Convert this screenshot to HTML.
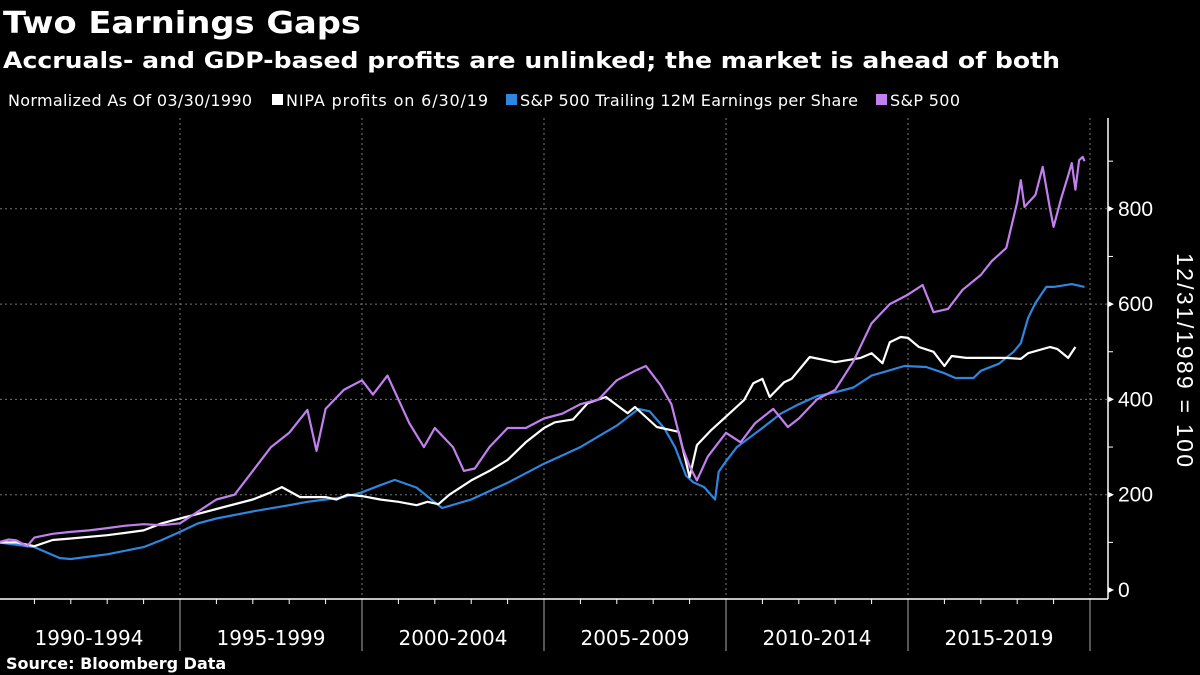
<!DOCTYPE html>
<html><head><meta charset="utf-8"><style>
html,body{margin:0;padding:0;background:#000;}
svg{display:block;font-family:"DejaVu Sans","Liberation Sans",sans-serif;}
</style></head><body>
<svg id="chart" width="1200" height="675" viewBox="0 0 1200 675">
<rect width="1200" height="675" fill="#000"/>
<text x="3" y="33" fill="#fff" font-size="30" font-weight="bold" font-family="DejaVu Sans, sans-serif" textLength="358" lengthAdjust="spacingAndGlyphs">Two Earnings Gaps</text>
<text x="3" y="68" fill="#fff" font-size="22" font-weight="bold" font-family="DejaVu Sans, sans-serif" textLength="1057" lengthAdjust="spacingAndGlyphs">Accruals- and GDP-based profits are unlinked; the market is ahead of both</text>
<g font-size="16" fill="#fff">
<text x="8" y="106" textLength="244">Normalized As Of 03/30/1990</text>
<g><rect x="272" y="94" width="11" height="11" fill="#fff"/><text x="286" y="106" textLength="202">NIPA profits on 6/30/19</text></g>
<g><rect x="506" y="94" width="11" height="11" fill="#2e86de"/><text x="520" y="106" textLength="338">S&amp;P 500 Trailing 12M Earnings per Share</text></g>
<g><rect x="876" y="94" width="11" height="11" fill="#c17fef"/><text x="890" y="106" textLength="70">S&amp;P 500</text></g>
</g>
<g id="grid"></g>
<g id="axes"></g>
<g id="series"></g>
<text transform="translate(1177,360) rotate(90)" text-anchor="middle" fill="#fff" font-size="23" font-family="Liberation Sans, sans-serif" textLength="214">12/31/1989 = 100</text>
<text x="6" y="669" fill="#fff" font-size="16" font-weight="bold">Source: Bloomberg Data</text>
</svg>
<script>
const yTicks=[0,200,400,600,800];
const periodLabels=["1990-1994","1995-1999","2000-2004","2005-2009","2010-2014","2015-2019"];
const periodStarts=[1990,1995,2000,2005,2010,2015];
const nipaDates=[1990,1990.5,1991,1991.5,1992,1993,1994,1994.5,1995,1995.5,1996,1997,1997.5,1997.8,1998.3,1999,1999.3,1999.6,2000,2000.5,2001,2001.5,2001.8,2002.1,2002.4,2003,2003.5,2004,2004.5,2005,2005.3,2005.8,2006.2,2006.7,2007.3,2007.5,2008.1,2008.7,2009,2009.2,2009.6,2010.2,2010.5,2010.75,2011,2011.2,2011.6,2011.8,2012.3,2013,2013.7,2014,2014.3,2014.5,2014.8,2015,2015.3,2015.7,2016,2016.2,2016.6,2017,2017.7,2018.1,2018.3,2018.9,2019.1,2019.4,2019.6];
const nipaValues=[100,100,92,105,108,115,125,140,150,160,170,190,205,216,195,195,190,200,197,190,185,178,185,180,200,230,250,273,310,340,352,358,392,405,371,384,342,332,237,304,336,378,399,434,443,405,436,443,489,478,487,497,476,520,531,529,510,500,470,491,487,487,487,485,497,510,506,487,510];
const epsDates=[1990,1991,1991.7,1992,1993,1994,1994.5,1995,1995.5,1996,1997,1998,1998.5,1999,1999.5,2000,2000.5,2000.9,2001.5,2001.9,2002.2,2003,2004,2005,2006,2007,2007.6,2007.9,2008.3,2008.6,2008.9,2009.1,2009.4,2009.7,2009.8,2010,2010.3,2011,2011.5,2012,2012.5,2013,2013.5,2014,2014.9,2015.5,2016,2016.3,2016.8,2017,2017.5,2017.9,2018.1,2018.3,2018.5,2018.8,2019,2019.5,2019.85];
const epsValues=[100,90,67,65,75,90,105,122,140,150,165,178,185,190,195,205,220,231,215,190,172,190,225,265,300,345,380,375,340,300,240,226,216,190,248,270,300,340,370,390,407,415,425,450,470,468,455,445,445,460,475,500,518,571,602,636,636,642,636];
const spxDates=[1990,1990.3,1990.5,1990.8,1991,1991.5,1992,1992.5,1993,1993.5,1994,1994.5,1995,1995.5,1996,1996.5,1997,1997.5,1998,1998.5,1998.75,1999,1999.5,2000,2000.3,2000.7,2001,2001.3,2001.7,2002,2002.5,2002.8,2003.1,2003.5,2004,2004.5,2005,2005.5,2006,2006.5,2007,2007.5,2007.8,2008.2,2008.5,2008.8,2009,2009.2,2009.5,2010,2010.4,2010.8,2011.3,2011.7,2012,2012.5,2013,2013.5,2014,2014.5,2015,2015.4,2015.7,2016.1,2016.5,2017,2017.3,2017.7,2018,2018.1,2018.2,2018.5,2018.7,2018.9,2019,2019.2,2019.4,2019.5,2019.6,2019.7,2019.8,2019.85];
const spxValues=[100,106,104,92,110,118,122,125,130,135,138,136,140,165,190,200,250,300,330,378,292,380,420,440,410,450,400,350,300,340,300,250,255,300,340,340,360,370,390,400,440,460,470,430,390,300,260,230,280,330,310,350,380,342,360,400,420,480,560,600,620,640,583,590,630,661,690,718,814,860,804,829,888,800,762,820,870,896,840,902,909,900];
const NS="http://www.w3.org/2000/svg";
const Y0=590,PXY=36.4,PXV=0.4765,AXX=1108;
function xs(t){return 180+(t-1995)*PXY;}
function ys(v){return Y0-v*PXV;}
function mk(tag,attrs,parent){const e=document.createElementNS(NS,tag);for(const k in attrs)e.setAttribute(k,attrs[k]);parent.appendChild(e);return e;}
const grid=document.getElementById('grid'),axes=document.getElementById('axes'),series=document.getElementById('series');
yTicks.forEach(v=>{
  if(v>0){const g=mk('line',{x1:0,x2:AXX,y1:ys(v),y2:ys(v),stroke:'#777','stroke-dasharray':'2,3','stroke-width':1},grid);
  
  }
  const t=mk('polygon',{points:`${AXX},${ys(v)-3} ${AXX+6},${ys(v)} ${AXX},${ys(v)+3}`,fill:'#fff'},axes);
  
  
  const l=mk('text',{x:AXX+10,y:ys(v)+7,fill:'#fff','font-size':21,'font-family':'Liberation Sans, sans-serif'},axes);
  l.textContent=v;
  
  
});
for(let v=100;v<=900;v+=200){
  const t=mk('line',{x1:AXX,x2:AXX+5,y1:ys(v),y2:ys(v),stroke:'#fff'},axes);
  
  
}
for(let y=1991;y<=2019;y++){
  const t=mk('line',{x1:xs(y),x2:xs(y),y1:599,y2:604,stroke:'#fff'},axes);
  
  
}
periodStarts.forEach((p,i)=>{
  const gx=xs(p+5);
  const g=mk('line',{x1:gx,x2:gx,y1:118,y2:599,stroke:'#777','stroke-dasharray':'2,3'},grid);
  
  
  const d=mk('line',{x1:gx,x2:gx,y1:599,y2:651,stroke:'#aaa'},axes);
  
  
  const l=mk('text',{x:xs(p+2.5),y:645,fill:'#fff','font-size':20,'text-anchor':'middle'},axes);
  l.textContent=periodLabels[i];
  
  
});
const ax=mk('line',{x1:0,x2:AXX,y1:599,y2:599,stroke:'#fff','stroke-width':1.5},axes);


const ay=mk('line',{x1:AXX,x2:AXX,y1:118,y2:599,stroke:'#fff','stroke-width':1.5},axes);


function draw(d,v,color,name){
  const pts=d.map((t,i)=>xs(t).toFixed(1)+','+ys(v[i]).toFixed(1)).join(' ');
  const p=mk('polyline',{points:pts,fill:'none',stroke:color,'stroke-width':2.2,'stroke-linejoin':'round'},series);
  
  
}
draw(epsDates,epsValues,'#2e86de','eps-line');
draw(nipaDates,nipaValues,'#ffffff','nipa-line');
draw(spxDates,spxValues,'#c17fef','spx-line');
</script>
</body></html>
